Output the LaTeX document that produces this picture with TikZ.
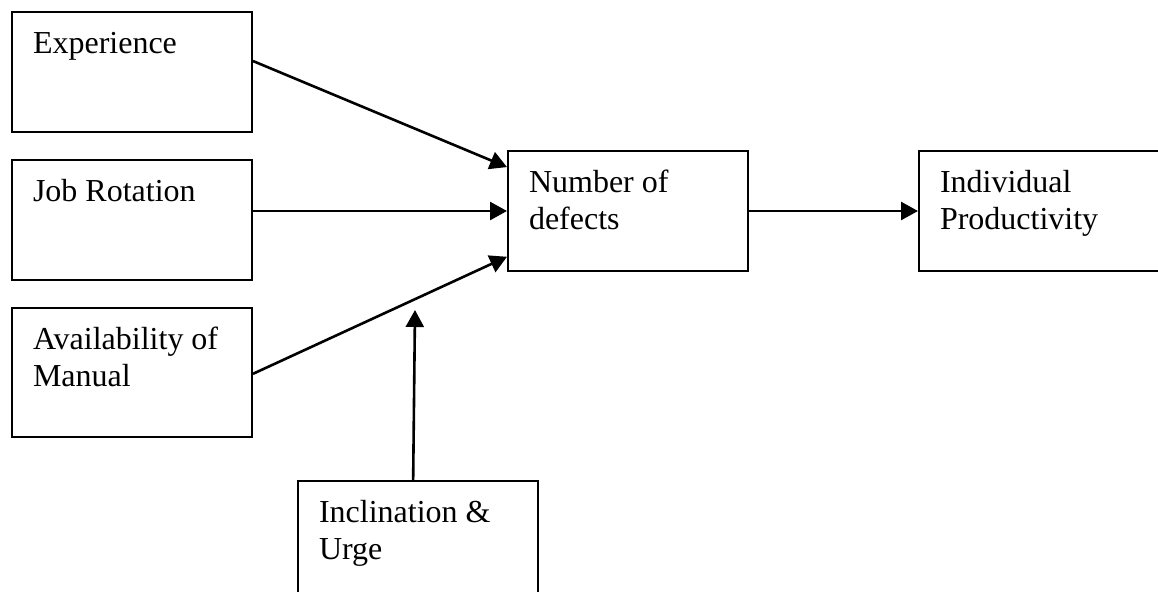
\documentclass[tikz,border=0pt]{standalone}
\usepackage{fontspec}
\setmainfont{Liberation Serif}
\usetikzlibrary{calc,arrows.meta}
\newcommand{\boxtext}[3][99pt]{\parbox[t][#2][t]{#1}{\raggedright\rule{0pt}{20.5pt}#3}}

\begin{document}
\begin{tikzpicture}[x=0.5pt,y=-0.5pt,
	factor/.style={draw, line width=1pt, anchor=north west, inner xsep=10.5pt, inner ysep=0pt,
		font=\fontsize{16}{18.5}\selectfont},
	link/.style={line width=1.3pt, -{Triangle[length=8.5pt,width=9pt]}}]
	\useasboundingbox (0,0) rectangle (1158,591);

	% Factors on the left
	\node[factor] (exp) at (11,11) {\boxtext{60pt}{Experience}};
	\node[factor] (job) at (11,159) {\boxtext{60pt}{Job Rotation}};
	\node[factor] (man) at (11,307) {\boxtext{64.5pt}{Availability of\\ Manual}};
	\node[factor] (inc) at (297,480) {\boxtext{60pt}{Inclination \&\\ Urge}};

	% Defects and productivity
	\node[factor] (def) at (507,150) {\boxtext{60pt}{Number of\\ defects}};
	\node[factor] (prod) at (918,150) {\boxtext[104pt]{60pt}{Individual\\ Productivity}};

	% Arrows into defects
	\draw[link] ($(exp.north east)!0.41!(exp.south east)$) -- ($(def.north west)!0.14!(def.south west)$);
	\draw[link] (def.west -| job.east) -- (def.west);
	\draw[link] ($(man.north east)!0.51!(man.south east)$) -- ($(def.north west)!0.875!(def.south west)$);
	\coordinate (inctip) at (415,310);
	\draw[link] ($(inc.north west)!0.48!(inc.north east)$) -- (inctip);

	\draw[link] (def.east) -- (prod.west);
\end{tikzpicture}
\end{document}
